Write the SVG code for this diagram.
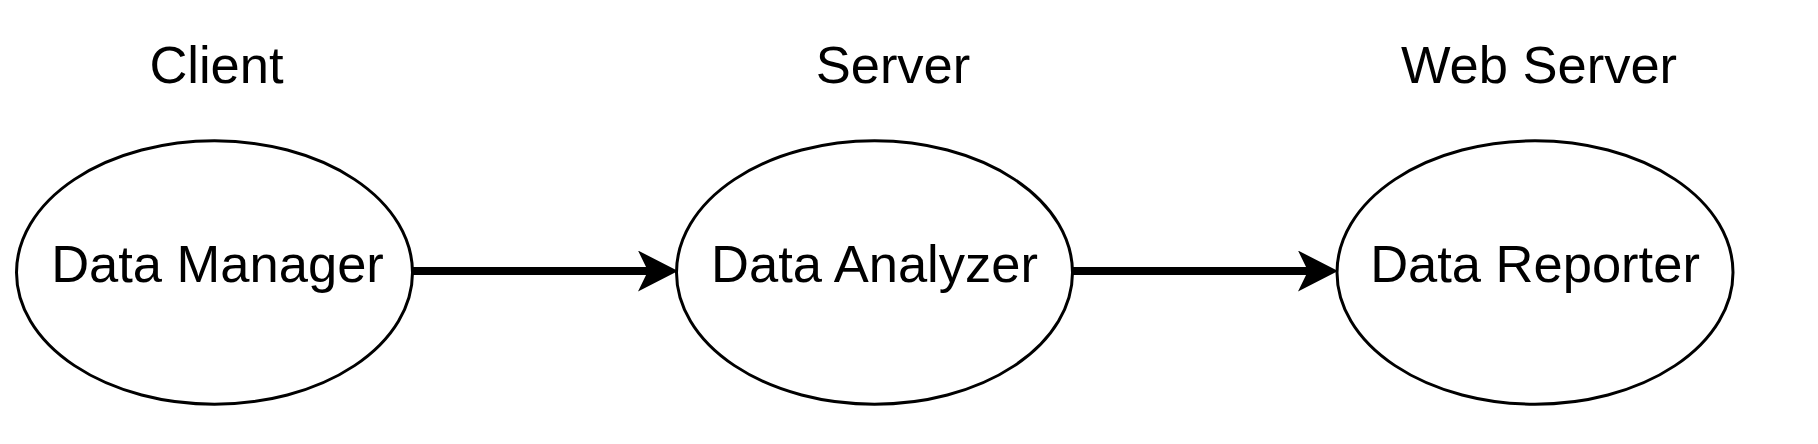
<svg xmlns="http://www.w3.org/2000/svg" width="1818" height="444" viewBox="0 0 1818 444">
  <style>
    .node { fill: #ffffff; stroke: #000000; stroke-width: 3; }
    .label { font-family: "Liberation Sans", Arial, Helvetica, sans-serif; font-size: 52.5px; fill: #000000; text-anchor: middle; }
    .edge { fill: none; stroke: #000000; stroke-width: 8; }
  </style>
  <defs>
    <marker id="arrow" viewBox="0 0 40 41" refX="12" refY="20.5" markerWidth="40" markerHeight="41" markerUnits="userSpaceOnUse" orient="auto">
      <path d="M0,0 L40,20.5 L0,41 L10,20.5 Z" fill="#000000"/>
    </marker>
  </defs>
  <rect x="0" y="0" width="1818" height="444" fill="#ffffff"/>

  <g id="titles">
    <text class="label" x="216.5" y="83">Client</text>
    <text class="label" x="893" y="83">Server</text>
    <text class="label" x="1539" y="83">Web Server</text>
  </g>

  <g id="connectors">
    <path class="edge" d="M413,271 L650,271" marker-end="url(#arrow)"/>
    <path class="edge" d="M1073,271 L1310,271" marker-end="url(#arrow)"/>
  </g>

  <g id="node-data-manager">
    <ellipse class="node" cx="214.5" cy="272.5" rx="198" ry="131.7"/>
    <text class="label" x="217.5" y="282">Data Manager</text>
  </g>
  <g id="node-data-analyzer">
    <ellipse class="node" cx="874.5" cy="272.5" rx="198" ry="131.7"/>
    <text class="label" x="874.5" y="282">Data Analyzer</text>
  </g>
  <g id="node-data-reporter">
    <ellipse class="node" cx="1535" cy="272.5" rx="198" ry="131.7"/>
    <text class="label" x="1535" y="282">Data Reporter</text>
  </g>
</svg>
